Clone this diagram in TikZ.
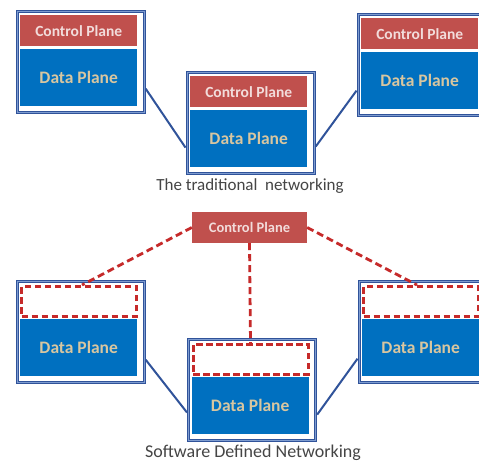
\documentclass[tikz,border=0pt]{standalone}
\usepackage{fontspec}
\setmainfont{Carlito}
\usetikzlibrary{calc}
\definecolor{ctrlred}{HTML}{C0504D}
\definecolor{slotred}{HTML}{C62A2A}
\definecolor{datablue}{HTML}{0070C0}
\definecolor{framedark}{HTML}{30539A}
\definecolor{framelight}{HTML}{7E9CD0}
\definecolor{ctrltext}{HTML}{F2DCDB}
\definecolor{datatext}{HTML}{D8C6A0}
\definecolor{captiongray}{HTML}{454545}
\tikzset{
  devframe/.style={draw=framedark, line width=3.2pt, fill=white, minimum width=127pt,
    minimum height=101pt, inner sep=0pt, anchor=north west,
    postaction={draw=framelight, line width=0.5pt}},
  ctrlbox/.style={fill=ctrlred, text=ctrltext, minimum width=117pt, minimum height=31pt,
    inner sep=0pt, anchor=north west, font=\fontsize{15.5}{18}\selectfont\bfseries},
  slotbox/.style={draw=slotred, fill=white, line width=3pt, dash pattern=on 6.5pt off 3.5pt,
    minimum width=115pt, minimum height=29.5pt, inner sep=0pt, anchor=north west},
  databox/.style={fill=datablue, text=datatext, minimum width=117pt, minimum height=57pt,
    inner sep=0pt, anchor=north west, font=\fontsize{17.5}{20}\selectfont\bfseries},
  link/.style={draw=framedark, line width=2pt},
  ctrllink/.style={draw=slotred, line width=2.8pt, dash pattern=on 7pt off 4pt},
  caption/.style={text=captiongray, inner sep=0pt}
}
% one network device: frame, upper plane box, data plane box
\newcommand\netdev[5]{%
  \node[devframe] (#1) at (#2,#3) {};
  \node[#4] (#1c) at ($(#1.north west)+(4.5,5.5)$) {#5};
  \node[databox] (#1d) at ($(#1.north west)+(4.5,39.5)$) {Data Plane};
}
\begin{document}
\begin{tikzpicture}[x=1pt,y=-1pt]
  \clip (0,0) rectangle (479,463);
  \fill[white] (0,0) rectangle (479,463);

  % traditional networking
  \netdev{tl}{15.5}{9.5}{ctrlbox}{Control Plane}
  \netdev{tm}{185.5}{70.5}{ctrlbox}{Control Plane}
  \netdev{tr}{356.5}{12.5}{ctrlbox}{Control Plane}
  \draw[link] ($(tl.north east)!0.76!(tl.south east)$) -- ($(tm.north west)!0.74!(tm.south west)$);
  \draw[link] ($(tm.north east)!0.73!(tm.south east)$) -- ($(tr.north west)!0.75!(tr.south west)$);
  \node[caption, font=\fontsize{17}{20}\selectfont] (cap1) at (250,186) {The traditional\ \ networking};

  % software defined networking
  \node[ctrlbox, anchor=center, minimum width=115pt,
        font=\fontsize{14.5}{17}\selectfont\bfseries] (bc) at (249.5,227.5) {Control Plane};
  \netdev{bl}{15.5}{279.5}{slotbox}{}
  \netdev{bm}{187}{337.5}{slotbox}{}
  \netdev{br}{357.5}{279.5}{slotbox}{}
  \draw[link] ($(bl.north east)!0.77!(bl.south east)$) -- ($(bm.north west)!0.72!(bm.south west)$);
  \draw[link] ($(bm.north east)!0.74!(bm.south east)$) -- ($(br.north west)!0.76!(br.south west)$);
  \draw[ctrllink] (bc.west) -- ($(blc.north)+(3,0)$);
  \draw[ctrllink] (bc.south) -- (bmc.north);
  \draw[ctrllink] (bc.east) -- ($(brc.north)+(-4,0)$);
  \node[caption, font=\fontsize{18}{21}\selectfont] (cap2) at (253,453) {Software Defined Networking};
\end{tikzpicture}
\end{document}
